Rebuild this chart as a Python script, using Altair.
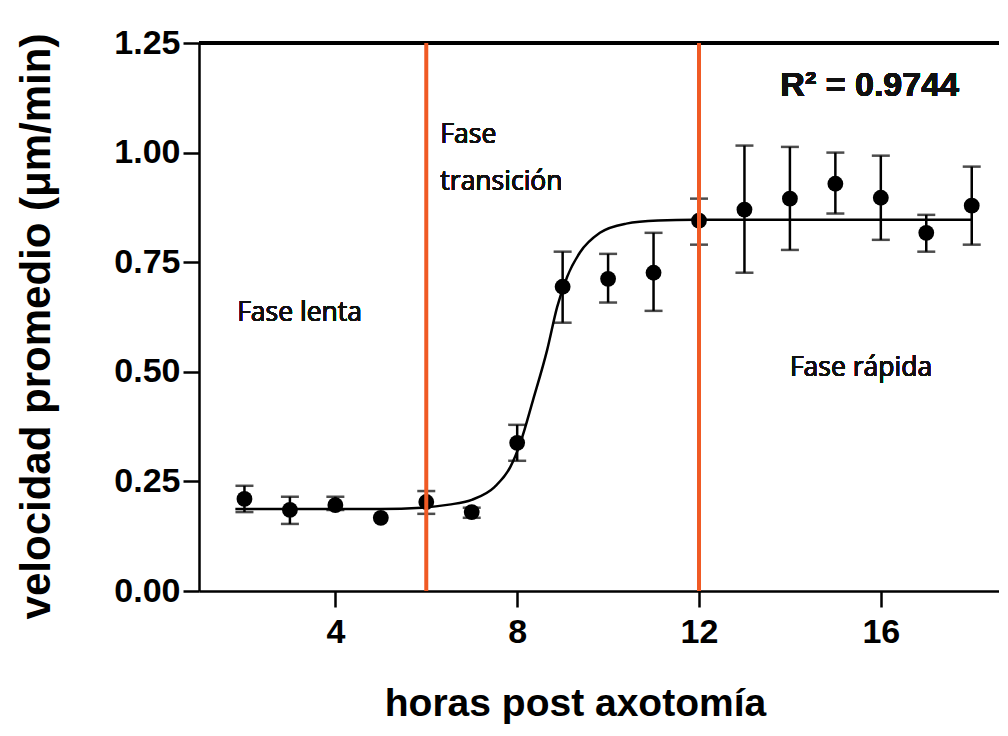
import altair as alt
import pandas as pd

# ---- data ----
hours = [2, 3, 4, 5, 6, 7, 8, 9, 10, 11, 12, 13, 14, 15, 16, 17, 18]
mean = [0.210, 0.185, 0.196, 0.167, 0.203, 0.180, 0.338, 0.694, 0.712, 0.726,
        0.845, 0.870, 0.895, 0.929, 0.897, 0.817, 0.879]
upper = [0.240, 0.215, 0.215, None, 0.228, 0.190, 0.379, 0.774, 0.769, 0.817,
         0.895, 1.016, 1.013, 1.000, 0.993, 0.858, 0.968]
lower = [0.180, 0.153, 0.185, None, 0.176, 0.167, 0.297, 0.612, 0.658, 0.639,
         0.790, 0.726, 0.778, 0.861, 0.801, 0.774, 0.790]

fit_hours = [1.8, 3, 4, 5, 5.9, 6.5, 7.0, 7.5, 7.85, 8.07, 8.35, 8.66, 8.88,
             9.1, 9.38, 9.82, 10.4, 11.1, 11.9, 13, 14, 15, 16, 17, 18]
fit_vel = [0.187, 0.187, 0.187, 0.187, 0.190, 0.197, 0.208, 0.237, 0.283, 0.338,
           0.436, 0.550, 0.648, 0.717, 0.772, 0.817, 0.838, 0.845, 0.847, 0.847,
           0.847, 0.847, 0.847, 0.847, 0.847]

phase_bounds = [6, 12]
x_ticks = [4, 8, 12, 16]
y_ticks = [0, 0.25, 0.5, 0.75, 1.0, 1.25]

df = pd.DataFrame({"hours": hours, "mean": mean, "upper": upper, "lower": lower})
err = df.dropna()
fit = pd.DataFrame({"hours": fit_hours, "mean": fit_vel})
bounds = pd.DataFrame({"hours": phase_bounds})

W, H = 800, 548
FONT = "Liberation Sans"
TXT = "Open Sans"
ORANGE = "#F05A24"

xscale = alt.Scale(domain=[1, 18.6], nice=False, zero=False)
yscale = alt.Scale(domain=[0, 1.25], nice=False)

xaxis = alt.Axis(values=x_ticks, title="horas post axotomía", grid=False,
                 tickSize=16, tickWidth=2.5, domainWidth=2.5, domainColor="black",
                 tickColor="black", labelFont=FONT, labelFontWeight="bold",
                 labelFontSize=34, labelColor="black", labelPadding=8,
                 titleFont=FONT, titleFontWeight="bold", titleFontSize=39,
                 titleColor="black", titleX=376, titleY=124, titleAlign="center",
                 titleBaseline="alphabetic")
yaxis = alt.Axis(values=y_ticks, format=".2f", title="velocidad promedio (μm/min)",
                 grid=False, tickSize=16, tickWidth=2.5, domainWidth=2.5,
                 domainColor="black", tickColor="black", labelFont=FONT,
                 labelFontWeight="bold", labelFontSize=34, labelColor="black",
                 labelPadding=3, titleFont=FONT, titleFontWeight="bold",
                 titleFontSize=42, titleColor="black", titleX=-163, titleY=283,
                 titleAlign="center", titleBaseline="middle", titleAngle=-90)

X = alt.X("hours:Q", scale=xscale, axis=xaxis)
Y = alt.Y("mean:Q", scale=yscale, axis=yaxis)

top_border = alt.Chart(df).mark_rule(color="black", strokeWidth=2.5).encode(
    x=alt.value(0), x2=alt.value(W), y=alt.value(0))

fit_line = alt.Chart(fit).mark_line(color="black", strokeWidth=2.5,
                                     interpolate="monotone").encode(x=X, y=Y)

bars = alt.Chart(err).mark_rule(color="black", strokeWidth=2.5).encode(
    x=X, y=alt.Y("lower:Q", scale=yscale, axis=yaxis), y2="upper:Q")
cap_hi = alt.Chart(err).mark_tick(color="black", thickness=2.5, size=18,
                                  orient="horizontal").encode(
    x=X, y=alt.Y("upper:Q", scale=yscale, axis=yaxis))
cap_lo = alt.Chart(err).mark_tick(color="black", thickness=2.5, size=18,
                                  orient="horizontal").encode(
    x=X, y=alt.Y("lower:Q", scale=yscale, axis=yaxis))

points = alt.Chart(df).mark_circle(color="black", opacity=1, size=250).encode(x=X, y=Y)

vlines = alt.Chart(bounds).mark_rule(color=ORANGE, strokeWidth=4).encode(
    x=X, y=alt.value(0), y2=alt.value(H))


def label(text, hx, vy, size, weight="normal", font=TXT):
    return alt.Chart(df).mark_text(text=text, align="left", baseline="middle",
                                   font=font, fontSize=size, fontWeight=weight,
                                   color="#111111").encode(
        x=alt.datum(hx, scale=xscale), y=alt.datum(vy, scale=yscale))


texts = (label("Fase lenta", 1.84, 0.635, 26.5)
         + label("Fase", 6.31, 1.041, 26.5)
         + label("transición", 6.31, 0.932, 26.5)
         + label("Fase rápida", 14.0, 0.509, 26.5)
         + label("R² = 0.9744", 13.79, 1.151, 34, "bold", FONT))

chart = alt.layer(top_border, fit_line, bars, cap_hi, cap_lo, points, vlines, texts).properties(
    width=W, height=H,
    autosize=alt.AutoSizeParams(type="none"),
    padding={"left": 191, "top": 35, "right": 0, "bottom": 137},
    background="white",
).configure_view(strokeWidth=0)

chart.save("out.html", embed_options={"renderer": "svg", "actions": False})
